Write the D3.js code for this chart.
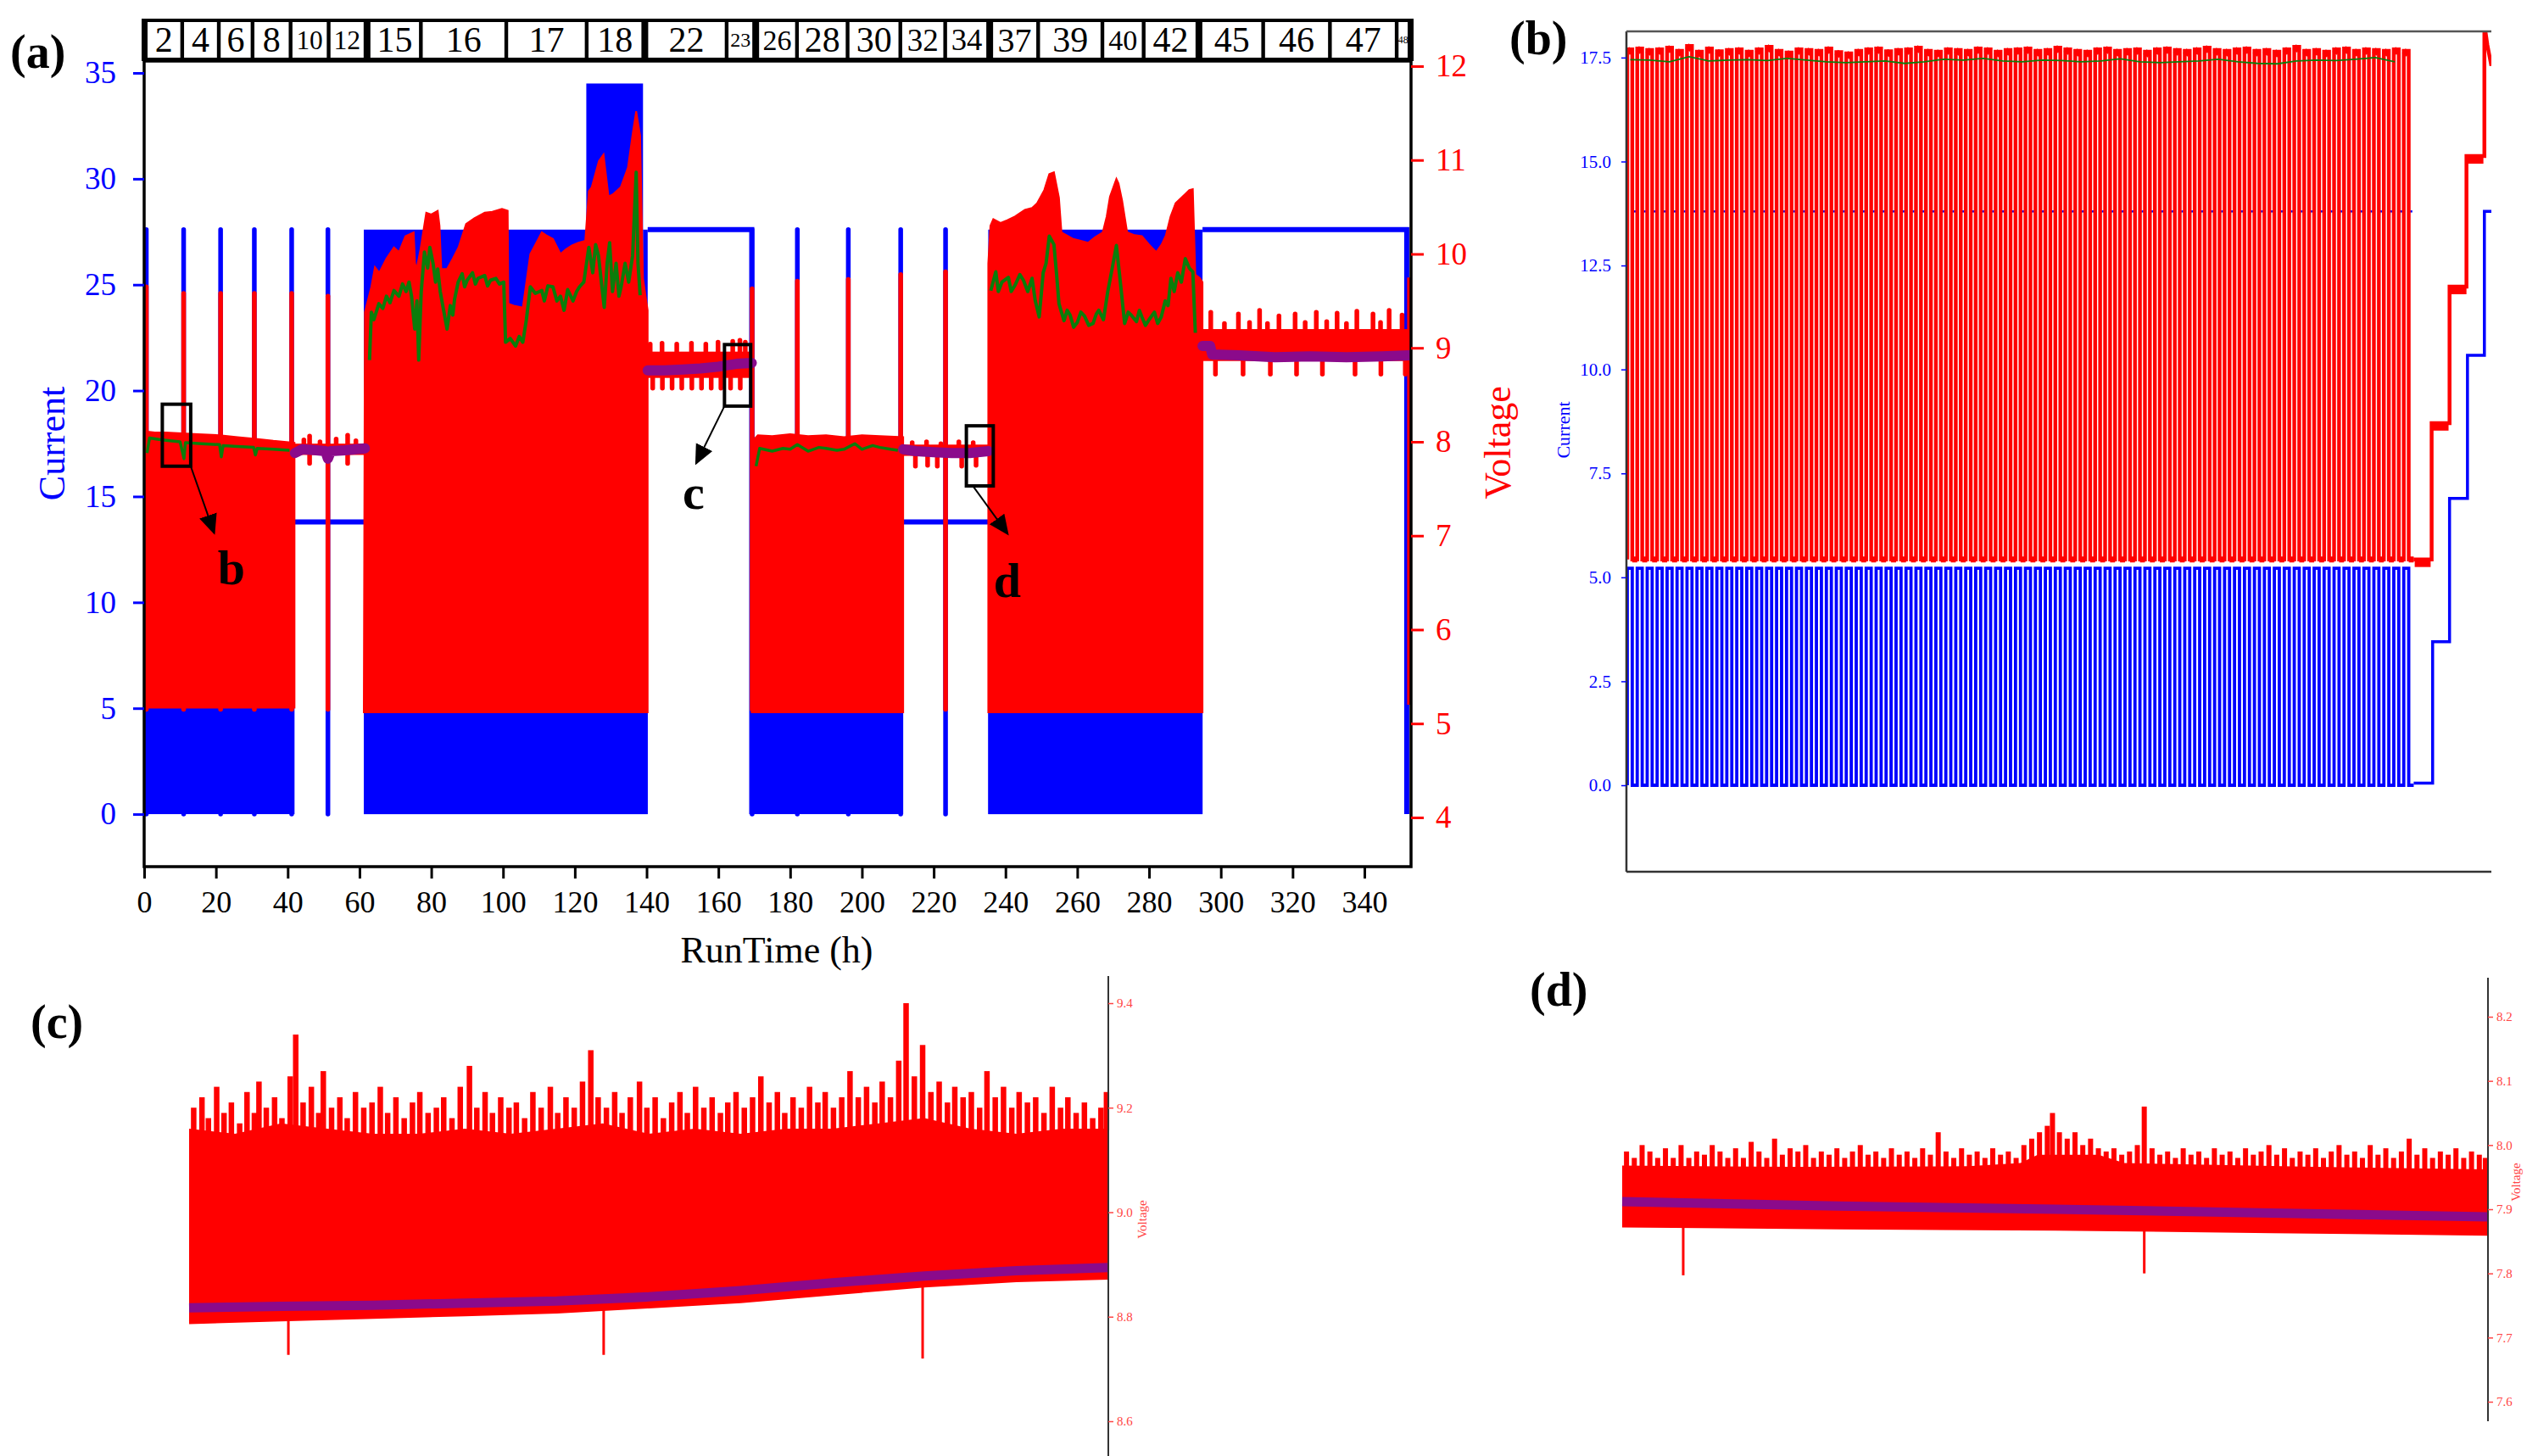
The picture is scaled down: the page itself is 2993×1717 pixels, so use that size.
<!DOCTYPE html>
<html><head><meta charset="utf-8">
<script src="https://cdn.jsdelivr.net/npm/d3@7"></script>
<style>body{margin:0;background:#fff}svg{display:block}text{font-family:"Liberation Serif","DejaVu Serif",serif}</style>
</head><body><svg id="chart" width="2993" height="1717"></svg>
<script>
// ================= DATA =================
// Panel (a): segment strip
const segLabels = ["2","4","6","8","10","12","15","16","17","18","22","23","26","28","30","32","34","37","39","40","42","45","46","47","48"];
const segEdges = [0,10.6,20.8,30.2,40.8,51.4,62.1,77.1,100.9,123.3,139.5,162.3,170.4,181.9,196,210.7,223.2,235.6,249.1,267,278.5,293.9,311.8,330.4,349,353];
const segThick = [0,62.1,139.5,170.4,235.6,293.9,353];
const currentTicks = [0,5,10,15,20,25,30,35];
const voltageTicks = [4,5,6,7,8,9,10,11,12];
const timeTicks = [0,20,40,60,80,100,120,140,160,180,200,220,240,260,280,300,320,340];

// current (blue)
const pulseBands = [[0,41.9],[61.2,140.3],[169.3,211.5],[235.2,294.9]];
const pulseTop = 5.05;
const highBlocks = [[61.2,123.2,27.6],[123.2,139.0,34.5],[139.0,140.3,27.6],[235.2,294.9,27.6]];
const currentLines = [
  [[42,13.8],[61.2,13.8]],
  [[211.5,13.8],[235.2,13.8]],
  [[140.3,27.6],[169.3,27.6],[169.3,0]],
  [[294.9,27.6],[351.8,27.6],[351.8,0]]
];
const spikeTimes = [0.6,11.0,21.3,30.7,41.1,51.2,169.4,182.0,196.2,210.8,223.3];
const spikeCurrent = 27.6;
const spikeVoltTop = [9.65,9.58,9.58,9.58,9.58,9.55,9.63,9.71,9.73,9.78,9.81];
const spikeVoltBase = 5.15;

// voltage (red) filled regions
const voltTopA = [[0.3,8.11],[3,8.1],[6,8.1],[10.5,8.09],[15,8.08],[21,8.07],[26,8.05],[31.6,8.03],[36,8.01],[41.9,7.99]];
const voltTopB = [[61.2,5.2],[61.5,9.38],[63.3,9.65],[64.3,9.86],[65.5,9.8],[67.5,9.95],[69.6,10.07],[71,10.02],[72.8,10.19],[75.1,10.23],[75.5,9.9],[75.9,9.84],[77,10.05],[78.6,10.44],[80,10.42],[81.8,10.46],[82.3,10.3],[82.8,9.84],[84.4,9.84],[86,9.95],[87.6,10.07],[89.7,10.32],[92,10.38],[94.9,10.44],[97,10.45],[99.7,10.48],[101.3,10.46],[101.5,9.47],[103,9.45],[105.5,9.43],[106.5,9.7],[107.6,10.0],[109,10.1],[110.8,10.23],[112,10.2],[113.9,10.16],[116,10.0],[117.5,10.05],[119.2,10.09],[121,10.12],[122.9,10.14],[123.9,10.67],[124.7,10.71],[126.7,10.99],[128,11.06],[129.4,10.61],[130.8,10.64],[132.8,10.71],[134.8,10.92],[136.2,11.30],[137.1,11.52],[138.2,11.26],[139,9.74],[140.3,9.40]];
const voltTopC = [[169.3,8.0],[171,8.07],[175,8.06],[180,8.08],[185,8.06],[190,8.07],[195,8.05],[200,8.07],[205,8.06],[211.5,8.05]];
const voltTopD = [[235.2,9.9],[235.8,10.3],[236.6,10.37],[238.6,10.33],[240.5,10.36],[242.7,10.40],[245.4,10.47],[247.4,10.49],[248.8,10.54],[250.8,10.68],[252.2,10.85],[253.5,10.87],[254.9,10.6],[255.6,10.23],[257,10.2],[258.9,10.16],[261,10.14],[263,10.12],[265,10.18],[267.1,10.23],[268.2,10.4],[269.1,10.61],[270.9,10.80],[271.5,10.75],[272.5,10.57],[273.9,10.23],[276,10.2],[278,10.19],[280,10.1],[282,10.02],[283.5,10.1],[284.7,10.2],[286,10.4],[287.4,10.54],[290.1,10.64],[291.2,10.68],[292.2,10.69],[292.9,9.78],[294.2,9.74],[294.9,9.7]];
const voltBottoms = [5.17,5.12,5.12,5.12];

// voltage comb regions around the purple mean line
const combBands = [[42,61.5,7.86,7.98],[140.3,169.3,8.68,8.96],[211.5,235.2,7.85,7.97],[294.9,352.5,8.86,9.20]];
const combUp = [[44.5,8.02],[46.1,8.06],[49,8.0],[53.5,8.03],[56.7,8.07],[59,8.01],
  [141,9.04],[144.3,9.05],[148.4,9.04],[152.5,9.05],[156.5,9.04],[159.9,9.06],[164,9.07],[166,9.08],[167.5,9.06],
  [214,7.99],[218,8.0],[222,7.98],[227,8.0],[231,7.99],
  [297.2,9.38],[301,9.26],[304.9,9.36],[308,9.27],[310.8,9.4],[313,9.26],[316.2,9.34],[320.7,9.36],[323.5,9.27],[326.6,9.38],[329.5,9.28],[332.4,9.37],[335,9.26],[337.9,9.39],[342.4,9.36],[344.5,9.27],[346.9,9.4],[350.5,9.35]];
const combDown = [[46.1,7.77],[56.7,7.77],
  [141.7,8.57],[144.4,8.57],[147.1,8.57],[149.8,8.57],[152.6,8.57],[155.3,8.57],[158,8.57],[160.7,8.57],[163.4,8.57],[166.1,8.57],
  [214.9,7.74],[218.3,7.75],[221,7.74],[227.8,7.74],[231.8,7.75],
  [298.5,8.72],[306.2,8.72],[313.8,8.72],[321.1,8.72],[328.3,8.72],[337.4,8.72],[344.6,8.72],[351.4,8.72]];
const endVolt = [[352.5,9.75],[352.5,5.2]];

// green (smoothed voltage)
const greenA = [[0.8,7.88],[1.5,8.04],[5,8.02],[10,8.0],[11.1,7.82],[11.5,7.99],[16,7.98],[21,7.97],[21.5,7.84],[22,7.96],[26,7.95],[30.5,7.94],[31,7.86],[31.5,7.93],[36,7.92],[40.5,7.91]];
const greenB = [[62.8,8.87],[63.3,9.38],[64,9.3],[65.4,9.47],[66.5,9.42],[67.5,9.55],[68.5,9.48],[69.6,9.61],[71,9.55],[72,9.68],[73,9.6],[73.8,9.70],[74.5,9.55],[75.4,9.2],[76,9.5],[76.5,8.87],[77.2,9.6],[78.1,10.02],[79,9.85],[79.6,10.07],[80.5,9.9],[81.2,9.7],[81.8,9.84],[82.5,9.6],[83.3,9.43],[84.4,9.20],[85.3,9.45],[86,9.35],[86.5,9.52],[87.5,9.7],[88.6,9.79],[89.3,9.65],[90,9.72],[91.5,9.8],[92.3,9.68],[93,9.74],[94.9,9.77],[95.7,9.66],[96.5,9.72],[98,9.74],[99,9.68],[100.2,9.70],[100.7,9.06],[102,9.1],[103.5,9.02],[104.5,9.12],[105.5,9.06],[106.5,9.3],[107.6,9.65],[109,9.58],[110.8,9.61],[111.5,9.5],[112.5,9.66],[113.9,9.65],[115,9.5],[116,9.55],[117,9.4],[118,9.62],[119.5,9.5],[120.5,9.6],[121.3,9.65],[122.5,9.7],[123.9,10.07],[125,9.8],[125.8,10.1],[126.6,9.98],[127.4,9.7],[128.2,9.43],[129,9.9],[129.7,10.12],[130.5,9.6],[131.5,9.9],[132.3,9.55],[132.9,9.65],[134,9.9],[135,9.7],[136.1,9.98],[137.1,10.87],[137.6,9.9],[138.2,9.56]];
const greenC = [[170.5,7.74],[171.5,7.93],[175,7.9],[178,7.93],[180,7.92],[182,7.97],[185,7.9],[188,7.94],[190,7.93],[193,7.91],[195,7.92],[198,7.98],[200,7.92],[203,7.96],[205,7.94],[208,7.92],[210,7.91]];
const greenD = [[235.9,9.61],[237.3,9.81],[238,9.6],[239,9.7],[240.8,9.75],[241.6,9.6],[242.7,9.67],[244,9.78],[245,9.72],[246.2,9.6],[247.4,9.74],[248.3,9.5],[249.4,9.33],[250.5,9.8],[251.3,9.9],[252.2,10.19],[253.5,10.1],[254.2,9.8],[254.9,9.47],[256.3,9.29],[257.2,9.4],[258,9.35],[259,9.22],[260,9.27],[261,9.38],[262,9.34],[263.2,9.24],[264.4,9.26],[265.3,9.36],[266,9.4],[267.3,9.3],[268.5,9.6],[269.5,9.8],[270.9,10.09],[272,9.7],[273.2,9.26],[274.2,9.38],[275,9.35],[276.5,9.28],[277.3,9.4],[278,9.33],[279,9.24],[280,9.3],[281.5,9.38],[282.4,9.26],[283.4,9.33],[284.5,9.5],[285.3,9.45],[286.1,9.74],[287,9.6],[288,9.8],[289,9.7],[290.1,9.95],[291.2,9.85],[292.2,9.81],[292.9,9.16]];

// purple (mean voltage)
const purpleLines = [
  [[42,7.88],[44,7.92],[48,7.91],[50.5,7.9],[51.2,7.82],[52,7.9],[56,7.91],[61.5,7.93]],
  [[140.3,8.76],[145,8.76],[150,8.77],[155,8.78],[160,8.8],[165,8.83],[169.3,8.84]],
  [[211.5,7.92],[215,7.9],[220,7.89],[225,7.88],[230,7.88],[235.2,7.9]],
  [[294.9,9.02],[297,9.02],[297.6,8.93],[305,8.92],[315,8.9],[325,8.91],[335,8.9],[345,8.91],[352.5,8.92]]
];

// annotation boxes (data units of panel a)
const zoomBoxes = [
  {name:"b", h0:5.06, h1:12.97, v0:7.74, v1:8.40, from:[12.97,7.74], to:[19.5,7.03], lab:[24.3,6.48]},
  {name:"c", h0:161.7, h1:169.0, v0:8.38, v1:9.035, from:[161.7,8.38], to:[153.8,7.77], lab:[153.1,7.29]},
  {name:"d", h0:229.1, h1:236.6, v0:7.53, v1:8.17, from:[231.1,7.52], to:[240.6,7.02], lab:[240.5,6.35]}
];

// Panel (b): pulse cycles
const bTicks = [0,2.5,5,7.5,10,12.5,15,17.5];
const bPeaks = [17.70,17.72,17.68,17.70,17.74,17.66,17.78,17.64,17.72,17.65,17.68,17.70,17.64,17.70,17.76,17.66,17.62,17.70,17.68,17.66,17.72,17.63,17.60,17.66,17.70,17.72,17.65,17.68,17.70,17.74,17.66,17.64,17.70,17.68,17.66,17.72,17.70,17.64,17.68,17.70,17.72,17.66,17.68,17.74,17.70,17.66,17.64,17.70,17.72,17.66,17.68,17.70,17.64,17.70,17.72,17.68,17.66,17.70,17.74,17.68,17.66,17.70,17.72,17.66,17.68,17.64,17.70,17.76,17.66,17.68,17.64,17.70,17.72,17.66,17.70,17.68,17.66,17.70,17.66];
const bRedLow = 5.43;
const bCurHigh = 5.22;
const bCurDash = 13.8;
const bGreen = [17.45,17.44,17.40,17.52,17.42,17.44,17.45,17.43,17.48,17.44,17.40,17.38,17.40,17.42,17.36,17.40,17.46,17.44,17.48,17.42,17.40,17.44,17.43,17.40,17.42,17.47,17.40,17.38,17.40,17.42,17.46,17.40,17.36,17.35,17.42,17.44,17.43,17.46,17.50,17.40];
const bRedSteps = [[79,5.43],[80.8,5.43],[80.8,8.71],[82.6,8.71],[82.6,11.99],[84.3,11.99],[84.3,15.13],[86.1,15.13],[86.1,18.3],[86.4,17.8],[86.8,17.3]];
const bBlueSteps = [[79,0.05],[80.9,0.05],[80.9,3.45],[82.6,3.45],[82.6,6.9],[84.4,6.9],[84.4,10.34],[86.1,10.34],[86.1,13.8],[86.8,13.8]];

// Panel (c): zoom of segment 22
const cTicks = [8.6,8.8,9.0,9.2,9.4];
const cBase = [[0,9.16],[5,9.15],[10,9.17],[15,9.16],[20,9.15],[25,9.15],[30,9.16],[35,9.15],[40,9.16],[45,9.17],[50,9.15],[55,9.16],[60,9.15],[65,9.16],[70,9.16],[75,9.17],[80,9.18],[85,9.16],[90,9.15],[95,9.16],[100,9.16]];
const cBottom = [[0,8.79],[10,8.795],[20,8.80],[30,8.805],[40,8.81],[50,8.82],[60,8.83],[70,8.845],[80,8.86],[90,8.87],[100,8.875]];
const cPurple = [[0,8.817],[10,8.82],[20,8.822],[30,8.826],[40,8.83],[50,8.838],[60,8.85],[70,8.865],[80,8.878],[90,8.888],[100,8.894]];
const cSpikes = [[0.5,9.20],[1.4,9.22],[2.1,9.18],[3.0,9.24],[3.8,9.19],[4.6,9.21],[5.5,9.17],[6.3,9.23],[7.1,9.19],[7.6,9.25],[8.4,9.20],[9.3,9.22],[10.1,9.18],[11.0,9.26],[11.6,9.34],[12.4,9.21],[13.3,9.24],[14.1,9.19],[14.6,9.27],[15.5,9.20],[16.4,9.22],[17.2,9.18],[18.1,9.23],[19.0,9.20],[19.9,9.21],[20.8,9.24],[21.6,9.19],[22.5,9.22],[23.4,9.18],[24.3,9.21],[25.1,9.23],[26.0,9.19],[26.9,9.20],[27.7,9.22],[28.6,9.18],[29.5,9.24],[30.5,9.28],[31.3,9.20],[32.2,9.23],[33.0,9.19],[33.9,9.22],[34.8,9.20],[35.6,9.21],[36.5,9.18],[37.4,9.23],[38.3,9.20],[39.3,9.24],[40.1,9.19],[41.0,9.22],[41.9,9.20],[42.8,9.25],[43.7,9.31],[44.5,9.22],[45.4,9.20],[46.3,9.23],[47.1,9.19],[48.0,9.22],[49.0,9.25],[49.8,9.20],[50.7,9.22],[51.6,9.18],[52.5,9.21],[53.4,9.23],[54.2,9.19],[55.1,9.24],[56.0,9.20],[56.9,9.22],[57.8,9.19],[58.6,9.21],[59.5,9.23],[60.4,9.20],[61.3,9.22],[62.2,9.26],[63.1,9.21],[64.0,9.23],[64.8,9.19],[65.7,9.22],[66.6,9.20],[67.5,9.24],[68.4,9.21],[69.2,9.23],[70.1,9.20],[71.0,9.22],[71.9,9.27],[72.8,9.22],[73.7,9.24],[74.6,9.21],[75.4,9.25],[76.3,9.22],[77.2,9.29],[78.0,9.40],[78.9,9.26],[79.8,9.32],[80.7,9.23],[81.6,9.25],[82.5,9.21],[83.3,9.24],[84.2,9.22],[85.1,9.23],[86.0,9.20],[86.8,9.27],[87.7,9.22],[88.6,9.24],[89.5,9.20],[90.3,9.23],[91.2,9.21],[92.1,9.22],[93.0,9.19],[93.9,9.24],[94.8,9.20],[95.6,9.22],[96.5,9.19],[97.4,9.21],[98.3,9.18],[99.2,9.20],[99.8,9.23]];
const cDips = [[10.8,8.727],[45.1,8.727],[79.8,8.72]];

// Panel (d): zoom of segment 34
const dTicks = [7.6,7.7,7.8,7.9,8.0,8.1,8.2];
const dBase = [[0,7.968],[20,7.966],[40,7.967],[46,7.972],[48,7.985],[55,7.985],[58,7.972],[80,7.966],[100,7.962]];
const dBottom = [[0,7.875],[25,7.872],[50,7.87],[75,7.866],[100,7.862]];
const dPurple = [[0,7.912],[25,7.905],[50,7.9],[75,7.894],[100,7.888]];
const dSpikes = [[0.5,7.99],[1.4,7.98],[2.3,8.0],[3.2,7.99],[4.1,7.98],[5.0,7.995],[5.9,7.98],[6.8,8.0],[7.7,7.98],[8.6,7.99],[9.5,7.985],[10.4,8.0],[11.3,7.99],[12.2,7.98],[13.1,7.995],[14.0,7.98],[14.9,8.005],[15.8,7.99],[16.7,7.98],[17.6,8.01],[18.5,7.985],[19.4,7.995],[20.3,7.99],[21.2,8.0],[22.1,7.98],[23.0,7.99],[23.9,7.985],[24.8,7.995],[25.7,7.98],[26.6,7.99],[27.5,8.0],[28.4,7.985],[29.3,7.99],[30.2,7.98],[31.1,7.995],[32.0,7.985],[32.9,7.99],[33.8,7.98],[34.7,7.995],[35.6,7.985],[36.5,8.02],[37.4,7.99],[38.3,7.98],[39.2,7.995],[40.1,7.985],[41.0,7.99],[41.9,7.98],[42.8,7.995],[43.7,7.985],[44.6,7.99],[45.5,7.98],[46.4,8.0],[47.3,8.01],[48.2,8.02],[49.1,8.03],[49.7,8.05],[50.5,8.02],[51.4,8.01],[52.3,8.02],[53.2,8.0],[54.1,8.01],[55.0,7.995],[55.9,7.99],[56.8,7.995],[57.7,7.985],[58.6,7.99],[59.5,8.0],[60.3,8.06],[61.2,7.995],[62.1,7.985],[63.0,7.99],[63.9,7.98],[64.8,7.995],[65.7,7.985],[66.6,7.99],[67.5,7.98],[68.4,7.995],[69.3,7.985],[70.2,7.99],[71.1,7.98],[72.0,7.995],[72.9,7.985],[73.8,7.99],[74.7,8.0],[75.6,7.985],[76.5,7.995],[77.4,7.98],[78.3,7.99],[79.2,7.985],[80.1,7.995],[81.0,7.98],[81.9,7.99],[82.8,8.0],[83.7,7.985],[84.6,7.99],[85.5,7.98],[86.4,8.0],[87.3,7.985],[88.2,7.995],[89.1,7.98],[90.0,7.99],[90.9,8.01],[91.8,7.985],[92.7,7.995],[93.6,7.98],[94.5,7.99],[95.4,7.985],[96.3,7.995],[97.2,7.98],[98.1,7.99],[99.0,7.985],[99.7,7.98]];
const dDips = [[7.05,7.797],[60.3,7.80]];

// ================= DRAW =================
const BLUE="#0000ff", RED="#ff0000", GREEN="#0b7d0b", PURPLE="#8b0a8b", FONT="Liberation Serif";
const svg = d3.select("#chart");
svg.append("rect").attr("width",2993).attr("height",1717).attr("fill","#fff");
const defs = svg.append("defs");
defs.append("clipPath").attr("id","clipA").append("rect").attr("x",170).attr("y",72).attr("width",1494).attr("height",950);
defs.append("clipPath").attr("id","clipB").append("rect").attr("x",1918).attr("y",37).attr("width",1020).attr("height",991);
defs.append("marker").attr("id","arr").attr("viewBox","0 0 10 10").attr("refX",9).attr("refY",5)
  .attr("markerUnits","userSpaceOnUse").attr("markerWidth",24).attr("markerHeight",24).attr("orient","auto")
  .append("path").attr("d","M0,0.5 L10,5 L0,9.5 Z").attr("fill","#000");

// ---------- Panel (a) ----------
const xA = d3.scaleLinear().domain([0,353]).range([170,1664]);
const yI = d3.scaleLinear().domain([-2.48,35.56]).range([1022,72]);
const yV = d3.scaleLinear().domain([3.476,12.054]).range([1022,72]);
const pA = svg.append("g").attr("clip-path","url(#clipA)");
const lineI = d3.line().x(d=>xA(d[0])).y(d=>yI(d[1]));
const lineV = d3.line().x(d=>xA(d[0])).y(d=>yV(d[1]));

pA.selectAll(".pb").data(pulseBands).join("rect")
  .attr("x",d=>xA(d[0])).attr("width",d=>xA(d[1])-xA(d[0]))
  .attr("y",yI(pulseTop)).attr("height",yI(0)-yI(pulseTop)).attr("fill",BLUE);
pA.selectAll(".hb").data(highBlocks).join("rect")
  .attr("x",d=>xA(d[0])).attr("width",d=>xA(d[1])-xA(d[0]))
  .attr("y",d=>yI(d[2])).attr("height",d=>yI(0)-yI(d[2])).attr("fill",BLUE);
pA.selectAll(".cl").data(currentLines).join("path").attr("d",lineI)
  .attr("fill","none").attr("stroke",BLUE).attr("stroke-width",6);
pA.selectAll(".bs").data(spikeTimes).join("line")
  .attr("x1",d=>xA(d)).attr("x2",d=>xA(d)).attr("y1",yI(0)).attr("y2",yI(spikeCurrent))
  .attr("stroke",BLUE).attr("stroke-width",5.5).attr("stroke-linecap","round");

const fills = [voltTopA,voltTopB,voltTopC,voltTopD];
fills.forEach((top,i)=>{
  pA.append("path").datum(top)
    .attr("d",d3.area().x(d=>xA(d[0])).y0(yV(voltBottoms[i])).y1(d=>yV(d[1])))
    .attr("fill",RED).attr("stroke",RED).attr("stroke-width",2);
});
pA.selectAll(".rs").data(spikeTimes).join("line")
  .attr("x1",d=>xA(d)).attr("x2",d=>xA(d)).attr("y1",yV(spikeVoltBase)).attr("y2",(d,i)=>yV(spikeVoltTop[i]))
  .attr("stroke",RED).attr("stroke-width",5.5).attr("stroke-linecap","round");
pA.selectAll(".cb").data(combBands).join("rect")
  .attr("x",d=>xA(d[0])).attr("width",d=>xA(d[1])-xA(d[0]))
  .attr("y",d=>yV(d[3])).attr("height",d=>yV(d[2])-yV(d[3])).attr("fill",RED);
const toothBase = h => combBands.find(c=>h>=c[0]&&h<=c[1]);
pA.selectAll(".tu").data(combUp).join("line")
  .attr("x1",d=>xA(d[0])).attr("x2",d=>xA(d[0])).attr("y1",d=>yV(toothBase(d[0])[3])).attr("y2",d=>yV(d[1]))
  .attr("stroke",RED).attr("stroke-width",5.5).attr("stroke-linecap","round");
pA.selectAll(".td").data(combDown).join("line")
  .attr("x1",d=>xA(d[0])).attr("x2",d=>xA(d[0])).attr("y1",d=>yV(toothBase(d[0])[2])).attr("y2",d=>yV(d[1]))
  .attr("stroke",RED).attr("stroke-width",5.5).attr("stroke-linecap","round");
pA.append("path").datum(endVolt).attr("d",lineV).attr("stroke",RED).attr("stroke-width",5).attr("fill","none");

[greenA,greenB,greenC,greenD].forEach((g,i)=>{
  pA.append("path").datum(g).attr("d",lineV).attr("fill","none").attr("stroke",GREEN).attr("stroke-width",(i%2)?4:3.5).attr("stroke-linejoin","round");
});
purpleLines.forEach(p=>{
  pA.append("path").datum(p).attr("d",lineV).attr("fill","none").attr("stroke",PURPLE).attr("stroke-width",12).attr("stroke-linecap","round").attr("stroke-linejoin","round");
});

// annotation boxes & arrows
const ann = svg.append("g");
zoomBoxes.forEach(b=>{
  ann.append("rect").attr("x",xA(b.h0)).attr("y",yV(b.v1)).attr("width",xA(b.h1)-xA(b.h0)).attr("height",yV(b.v0)-yV(b.v1))
    .attr("fill","none").attr("stroke","#000").attr("stroke-width",4);
  ann.append("line").attr("x1",xA(b.from[0])).attr("y1",yV(b.from[1])).attr("x2",xA(b.to[0])).attr("y2",yV(b.to[1]))
    .attr("stroke","#000").attr("stroke-width",2).attr("marker-end","url(#arr)");
  ann.append("text").attr("x",xA(b.lab[0])).attr("y",yV(b.lab[1])).attr("text-anchor","middle")
    .attr("font-size",58).attr("font-weight","bold").text(b.name);
});

// frame
svg.append("rect").attr("x",170).attr("y",72).attr("width",1494).attr("height",950).attr("fill","none").attr("stroke","#000").attr("stroke-width",3.5);

// axes (a)
function styleAxis(g, color, fs){
  g.select(".domain").remove();
  g.selectAll(".tick line").attr("stroke",color).attr("stroke-width",3);
  g.selectAll(".tick text").attr("fill",color).attr("font-size",fs).attr("font-family",FONT);
}
const axL = svg.append("g").attr("transform","translate(170,0)").call(d3.axisLeft(yI).tickValues(currentTicks).tickSize(13).tickPadding(20));
styleAxis(axL,BLUE,37);
const axR = svg.append("g").attr("transform","translate(1664,0)").call(d3.axisRight(yV).tickValues(voltageTicks).tickSize(15).tickPadding(14));
styleAxis(axR,RED,37);
const axB = svg.append("g").attr("transform","translate(0,1022)").call(d3.axisBottom(xA).tickValues(timeTicks).tickSize(14).tickPadding(14));
styleAxis(axB,"#000",36);
svg.append("text").attr("transform","translate(76,523) rotate(-90)").attr("text-anchor","middle").attr("fill",BLUE).attr("font-size",44).text("Current");
svg.append("text").attr("transform","translate(1781,522) rotate(-90)").attr("text-anchor","middle").attr("fill",RED).attr("font-size",44).text("Voltage");
svg.append("text").attr("x",916).attr("y",1135).attr("text-anchor","middle").attr("font-size",44).text("RunTime (h)");

// segment strip
svg.append("rect").attr("x",167).attr("y",22).attr("width",1500).attr("height",50).attr("fill","#000");
segLabels.forEach((lab,i)=>{
  const e0 = segEdges[i], e1 = segEdges[i+1];
  const in0 = segThick.includes(e0) ? 4 : 2.2, in1 = segThick.includes(e1) ? 4 : 2.2;
  const x0 = xA(e0)+in0, x1 = xA(e1)-in1;
  svg.append("rect").attr("x",x0).attr("y",26).attr("width",x1-x0).attr("height",42).attr("fill","#fff");
  const fs = Math.min(42, 0.7*(xA(e1)-xA(e0))/(0.5*lab.length));
  svg.append("text").attr("x",(x0+x1)/2).attr("y",47+0.34*fs).attr("text-anchor","middle").attr("font-size",fs).text(lab);
});

// panel labels
svg.append("text").attr("x",12).attr("y",80).attr("font-size",56).attr("font-weight","bold").text("(a)");
svg.append("text").attr("x",1780).attr("y",64).attr("font-size",56).attr("font-weight","bold").text("(b)");
svg.append("text").attr("x",36).attr("y",1224).attr("font-size",56).attr("font-weight","bold").text("(c)");
svg.append("text").attr("x",1804).attr("y",1186).attr("font-size",56).attr("font-weight","bold").text("(d)");

// ---------- Panel (b) ----------
const xB = d3.scaleLinear().domain([0,86.8]).range([1919,2938]);
const yB = d3.scaleLinear().domain([-2.08,18.13]).range([1028,37]);
const pB = svg.append("g").attr("clip-path","url(#clipB)");
pB.selectAll(".bd").data(bPeaks).join("line")
  .attr("x1",(d,i)=>xB(i+0.64)).attr("x2",(d,i)=>xB(i+0.86)).attr("y1",yB(bCurDash)).attr("y2",yB(bCurDash))
  .attr("stroke",BLUE).attr("stroke-width",2.5);
let bp = d3.path(); bp.moveTo(xB(0),yB(0));
bPeaks.forEach((p,i)=>{ bp.lineTo(xB(i),yB(bCurHigh)); bp.lineTo(xB(i+0.5),yB(bCurHigh)); bp.lineTo(xB(i+0.5),yB(0)); bp.lineTo(xB(i+1),yB(0)); });
pB.append("path").attr("d",bp.toString()).attr("fill","none").attr("stroke",BLUE).attr("stroke-width",3.8);
pB.append("path").datum(bBlueSteps).attr("d",d3.line().x(d=>xB(d[0])).y(d=>yB(d[1]))).attr("fill","none").attr("stroke",BLUE).attr("stroke-width",3.5);
let rp = d3.path(); rp.moveTo(xB(0),yB(bRedLow));
bPeaks.forEach((p,i)=>{ rp.lineTo(xB(i),yB(p)); rp.lineTo(xB(i+0.5),yB(p)); rp.lineTo(xB(i+0.5),yB(bRedLow)); rp.lineTo(xB(i+1),yB(bRedLow)); });
pB.append("path").attr("d",rp.toString()).attr("fill","none").attr("stroke",RED).attr("stroke-width",4.4);
pB.selectAll(".rt").data(bPeaks).join("line")
  .attr("x1",(d,i)=>xB(i)).attr("x2",(d,i)=>xB(i+0.45)).attr("y1",d=>yB(d)).attr("y2",d=>yB(d-0.08))
  .attr("stroke",RED).attr("stroke-width",7);
pB.selectAll(".rl").data(bPeaks).join("line")
  .attr("x1",(d,i)=>xB(i+0.5)).attr("x2",(d,i)=>xB(i+1)).attr("y1",yB(bRedLow)).attr("y2",yB(bRedLow))
  .attr("stroke",RED).attr("stroke-width",7);
pB.append("path").datum(bRedSteps).attr("d",d3.line().x(d=>xB(d[0])).y(d=>yB(d[1]))).attr("fill","none").attr("stroke",RED).attr("stroke-width",4.5);
pB.selectAll(".rf").data(bRedSteps.filter((d,i)=>i%2===0 && i<8)).join("line")
  .attr("x1",d=>xB(d[0]+0.1)).attr("x2",d=>xB(d[0]+1.7)).attr("y1",d=>yB(d[1]-0.1)).attr("y2",d=>yB(d[1]-0.1))
  .attr("stroke",RED).attr("stroke-width",8);
const xG = d3.scaleLinear().domain([0,bGreen.length-1]).range([0.3,77.1]);
pB.append("path").datum(bGreen).attr("d",d3.line().x((d,i)=>xB(xG(i))).y(d=>yB(d))).attr("fill","none").attr("stroke",GREEN).attr("stroke-width",1.8);
svg.append("line").attr("x1",1918).attr("x2",1918).attr("y1",37).attr("y2",1028).attr("stroke","#333").attr("stroke-width",2.5);
svg.append("line").attr("x1",1918).attr("x2",2938).attr("y1",37).attr("y2",37).attr("stroke","#555").attr("stroke-width",2.5);
svg.append("line").attr("x1",1918).attr("x2",2938).attr("y1",1028).attr("y2",1028).attr("stroke","#333").attr("stroke-width",2.5);
const axBL = svg.append("g").attr("transform","translate(1918,0)").call(d3.axisLeft(yB).tickValues(bTicks).tickFormat(d3.format(".1f")).tickSize(6).tickPadding(12));
styleAxis(axBL,BLUE,21); axBL.selectAll(".tick line").attr("stroke-width",1.5);
svg.append("text").attr("transform","translate(1851,507) rotate(-90)").attr("text-anchor","middle").attr("fill",BLUE).attr("font-size",22).text("Current");

// ---------- Panel (c) ----------
const xC = d3.scaleLinear().domain([0,100]).range([223,1307]);
const yC = d3.scaleLinear().domain([8.6,9.4]).range([1676,1183]);
const gC = svg.append("g");
const baseC = d3.scaleLinear().domain(cBase.map(d=>d[0])).range(cBase.map(d=>d[1]));
const botC = d3.scaleLinear().domain(cBottom.map(d=>d[0])).range(cBottom.map(d=>d[1]));
gC.append("path").datum(cBase).attr("d",d3.area().x(d=>xC(d[0])).y0(d=>yC(botC(d[0]))).y1(d=>yC(d[1]))).attr("fill",RED);
gC.selectAll(".cs").data(cSpikes).join("line")
  .attr("x1",d=>xC(d[0])).attr("x2",d=>xC(d[0])).attr("y1",d=>yC(baseC(d[0]))+2).attr("y2",d=>yC(d[1]))
  .attr("stroke",RED).attr("stroke-width",6.5);
gC.append("path").datum(cBottom).attr("d",d3.line().x(d=>xC(d[0])).y(d=>yC(d[1]))).attr("fill","none").attr("stroke",RED).attr("stroke-width",5);
gC.selectAll(".cd").data(cDips).join("line")
  .attr("x1",d=>xC(d[0])).attr("x2",d=>xC(d[0])).attr("y1",yC(8.86)).attr("y2",d=>yC(d[1]))
  .attr("stroke",RED).attr("stroke-width",3);
gC.append("path").datum(cPurple).attr("d",d3.line().x(d=>xC(d[0])).y(d=>yC(d[1]))).attr("fill","none").attr("stroke",PURPLE).attr("stroke-width",11);
svg.append("line").attr("x1",1307).attr("x2",1307).attr("y1",1151).attr("y2",1717).attr("stroke","#333").attr("stroke-width",2);
const axC = svg.append("g").attr("transform","translate(1307,0)").call(d3.axisRight(yC).tickValues(cTicks).tickFormat(d3.format(".1f")).tickSize(6).tickPadding(4));
styleAxis(axC,"#ff4444",15); axC.selectAll(".tick line").attr("stroke-width",1.5);
svg.append("text").attr("transform","translate(1352,1438) rotate(-90)").attr("text-anchor","middle").attr("fill","#ff4444").attr("font-size",15).text("Voltage");

// ---------- Panel (d) ----------
const xD = d3.scaleLinear().domain([0,100]).range([1913,2934]);
const yD = d3.scaleLinear().domain([7.6,8.2]).range([1653,1199]);
const gD = svg.append("g");
const baseD = d3.scaleLinear().domain(dBase.map(d=>d[0])).range(dBase.map(d=>d[1]));
const botD = d3.scaleLinear().domain(dBottom.map(d=>d[0])).range(dBottom.map(d=>d[1]));
gD.append("path").datum(dBase).attr("d",d3.area().x(d=>xD(d[0])).y0(d=>yD(botD(d[0]))).y1(d=>yD(d[1]))).attr("fill",RED);
gD.selectAll(".ds").data(dSpikes).join("line")
  .attr("x1",d=>xD(d[0])).attr("x2",d=>xD(d[0])).attr("y1",d=>yD(baseD(d[0]))+2).attr("y2",d=>yD(d[1]))
  .attr("stroke",RED).attr("stroke-width",6);
gD.append("path").datum(dBottom).attr("d",d3.line().x(d=>xD(d[0])).y(d=>yD(d[1]))).attr("fill","none").attr("stroke",RED).attr("stroke-width",5);
gD.selectAll(".dd").data(dDips).join("line")
  .attr("x1",d=>xD(d[0])).attr("x2",d=>xD(d[0])).attr("y1",yD(7.88)).attr("y2",d=>yD(d[1]))
  .attr("stroke",RED).attr("stroke-width",3);
gD.append("path").datum(dPurple).attr("d",d3.line().x(d=>xD(d[0])).y(d=>yD(d[1]))).attr("fill","none").attr("stroke",PURPLE).attr("stroke-width",11);
svg.append("line").attr("x1",2934).attr("x2",2934).attr("y1",1153).attr("y2",1676).attr("stroke","#333").attr("stroke-width",2);
const axD = svg.append("g").attr("transform","translate(2934,0)").call(d3.axisRight(yD).tickValues(dTicks).tickFormat(d3.format(".1f")).tickSize(6).tickPadding(4));
styleAxis(axD,"#ff4444",15); axD.selectAll(".tick line").attr("stroke-width",1.5);
svg.append("text").attr("transform","translate(2972,1394) rotate(-90)").attr("text-anchor","middle").attr("fill","#ff4444").attr("font-size",15).text("Voltage");
</script></body></html>
